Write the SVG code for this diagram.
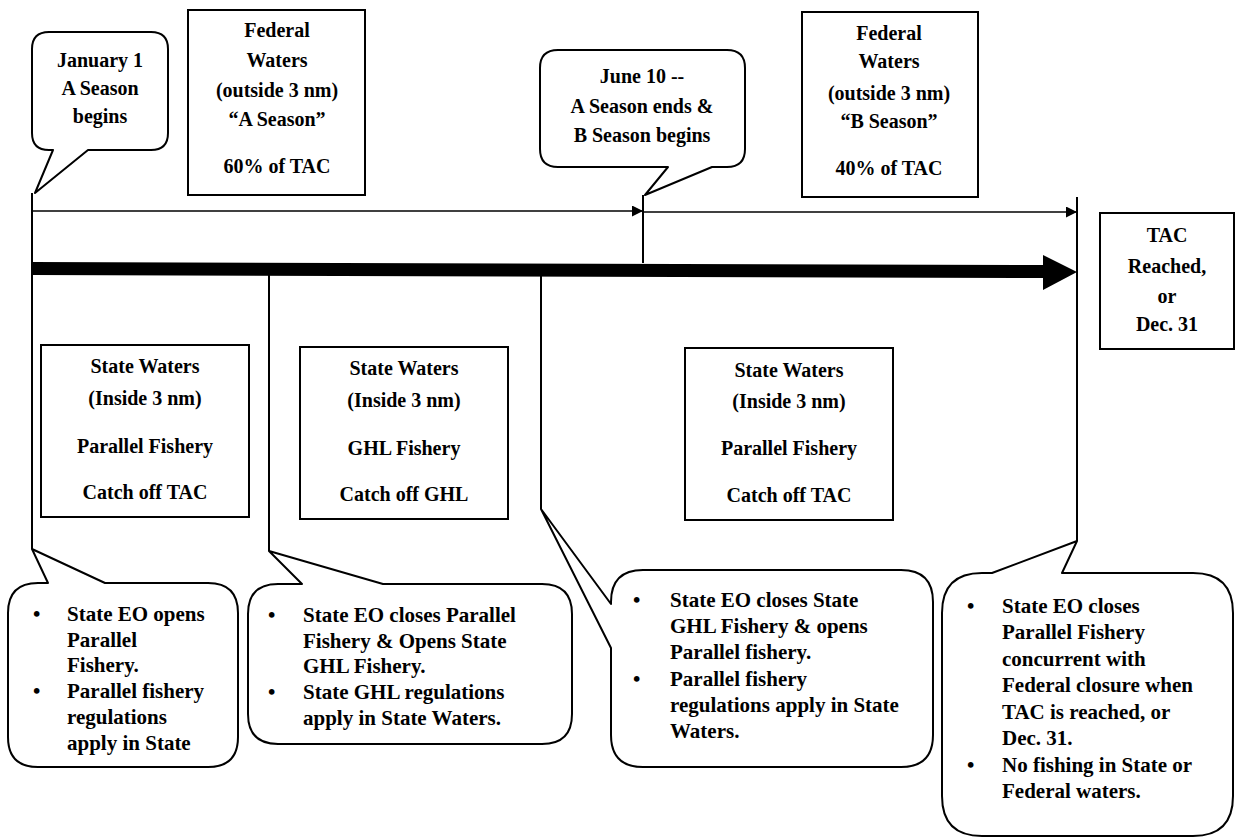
<svg xmlns="http://www.w3.org/2000/svg" width="1236" height="839" viewBox="0 0 1236 839">
<defs>
<style>
.t{font-family:'Liberation Serif','DejaVu Serif','Noto Serif',serif;font-weight:700;font-size:20px;fill:#000;text-anchor:middle}
.b{font-family:'Liberation Serif','DejaVu Serif','Noto Serif',serif;font-weight:700;font-size:21px;fill:#000}
.box{fill:#fff;stroke:#000;stroke-width:2}
.call{fill:#fff;stroke:#000;stroke-width:2;stroke-linejoin:round}
.ln{stroke:#000;stroke-width:2;fill:none}
.thin{stroke:#000;stroke-width:1.5;fill:none}
</style>
<marker id="ah" viewBox="0 0 11 11" refX="11" refY="5.5" markerWidth="11" markerHeight="11" markerUnits="userSpaceOnUse" orient="auto">
<path d="M0,0 L11,5.5 L0,11 Z" fill="#000"/>
</marker>
</defs>
<rect width="1236" height="839" fill="#fff"/>

<g id="connectors">
<line class="thin" x1="32" y1="211" x2="643" y2="211" marker-end="url(#ah)"/>
<line class="thin" x1="643" y1="212" x2="1077" y2="212" marker-end="url(#ah)"/>
<polygon points="32,262 1043,265 1043,255 1077,272 1043,290 1043,278 32,275" fill="#000"/>
<line class="ln" x1="32" y1="193" x2="32" y2="549"/>
<line class="ln" x1="269" y1="275" x2="269" y2="551"/>
<line class="ln" x1="541" y1="276" x2="541" y2="509"/>
<line class="ln" x1="643" y1="195" x2="643" y2="263"/>
<line class="ln" x1="1077" y1="197" x2="1077" y2="541"/>
</g>

<g id="jan1" font-family="Liberation Serif">
<path class="call" d="M49,32 H151 Q168,32 168,49 V133 Q168,150 151,150 H88 L35,193 L53,150 H49 Q32,150 32,133 V49 Q32,32 49,32 Z"/>
<text class="t" x="100" y="67">January 1</text>
<text class="t" x="100" y="95">A Season</text>
<text class="t" x="100" y="123">begins</text>
</g>

<g id="fedA" font-family="Liberation Serif">
<rect class="box" x="188" y="10" width="177" height="185"/>
<text class="t" x="277" y="37">Federal</text>
<text class="t" x="277" y="67">Waters</text>
<text class="t" x="277" y="97">(outside 3 nm)</text>
<text class="t" x="277" y="126">“A Season”</text>
<text class="t" x="277" y="173">60% of TAC</text>
</g>

<g id="june10" font-family="Liberation Serif">
<path class="call" d="M558,50 H727 Q745,50 745,68 V149 Q745,167 727,167 H712 L645,195 L668,167 H558 Q540,167 540,149 V68 Q540,50 558,50 Z"/>
<text class="t" x="642" y="83">June 10 --</text>
<text class="t" x="642" y="113">A Season ends &amp;</text>
<text class="t" x="642" y="142">B Season begins</text>
</g>

<g id="fedB" font-family="Liberation Serif">
<rect class="box" x="802" y="12" width="176" height="185"/>
<text class="t" x="889" y="40">Federal</text>
<text class="t" x="889" y="68">Waters</text>
<text class="t" x="889" y="100">(outside 3 nm)</text>
<text class="t" x="889" y="128">“B Season”</text>
<text class="t" x="889" y="175">40% of TAC</text>
</g>

<g id="tac" font-family="Liberation Serif">
<rect class="box" x="1100" y="213" width="134" height="136"/>
<text class="t" x="1167" y="242">TAC</text>
<text class="t" x="1167" y="273">Reached,</text>
<text class="t" x="1167" y="303">or</text>
<text class="t" x="1167" y="331">Dec. 31</text>
</g>

<g id="state1" font-family="Liberation Serif">
<rect class="box" x="41" y="345" width="208" height="172"/>
<text class="t" x="145" y="373">State Waters</text>
<text class="t" x="145" y="405">(Inside 3 nm)</text>
<text class="t" x="145" y="453">Parallel Fishery</text>
<text class="t" x="145" y="499">Catch off TAC</text>
</g>

<g id="state2" font-family="Liberation Serif">
<rect class="box" x="300" y="347" width="208" height="172"/>
<text class="t" x="404" y="375">State Waters</text>
<text class="t" x="404" y="407">(Inside 3 nm)</text>
<text class="t" x="404" y="455">GHL Fishery</text>
<text class="t" x="404" y="501">Catch off GHL</text>
</g>

<g id="state3" font-family="Liberation Serif">
<rect class="box" x="685" y="348" width="208" height="172"/>
<text class="t" x="789" y="377">State Waters</text>
<text class="t" x="789" y="408">(Inside 3 nm)</text>
<text class="t" x="789" y="455">Parallel Fishery</text>
<text class="t" x="789" y="502">Catch off TAC</text>
</g>

<g id="note1" font-family="Liberation Serif">
<path class="call" d="M38,583 H48 L32,549 L105,583 H208 Q238,583 238,613 V737 Q238,767 208,767 H38 Q8,767 8,737 V613 Q8,583 38,583 Z"/>
<text class="b" x="33" y="621">•</text>
<text class="b" x="67" y="621">State EO opens</text>
<text class="b" x="67" y="647">Parallel</text>
<text class="b" x="67" y="672">Fishery.</text>
<text class="b" x="33" y="698">•</text>
<text class="b" x="67" y="698">Parallel fishery</text>
<text class="b" x="67" y="724">regulations</text>
<text class="b" x="67" y="750">apply in State</text>
</g>

<g id="note2" font-family="Liberation Serif">
<path class="call" d="M278,584 H302 L269,551 L383,584 H542 Q572,584 572,614 V714 Q572,744 542,744 H278 Q248,744 248,714 V614 Q248,584 278,584 Z"/>
<text class="b" x="268" y="622">•</text>
<text class="b" x="303" y="622">State EO closes Parallel</text>
<text class="b" x="303" y="648">Fishery &amp; Opens State</text>
<text class="b" x="303" y="673">GHL Fishery.</text>
<text class="b" x="268" y="699">•</text>
<text class="b" x="303" y="699">State GHL regulations</text>
<text class="b" x="303" y="725">apply in State Waters.</text>
</g>

<g id="note3" font-family="Liberation Serif">
<path class="call" d="M643,570 H901 Q933,570 933,602 V735 Q933,767 901,767 H643 Q611,767 611,735 V648 L541,509 L611,604 V602 Q611,570 643,570 Z"/>
<text class="b" x="633" y="607">•</text>
<text class="b" x="670" y="607">State EO closes State</text>
<text class="b" x="670" y="633">GHL Fishery &amp; opens</text>
<text class="b" x="670" y="659">Parallel fishery.</text>
<text class="b" x="633" y="686">•</text>
<text class="b" x="670" y="686">Parallel fishery</text>
<text class="b" x="670" y="712">regulations apply in State</text>
<text class="b" x="670" y="738">Waters.</text>
</g>

<g id="note4" font-family="Liberation Serif">
<path class="call" d="M982,573 H992 L1077,541 L1062,573 H1193 Q1233,573 1233,613 V796 Q1233,836 1193,836 H982 Q942,836 942,796 V613 Q942,573 982,573 Z"/>
<text class="b" x="967" y="613">•</text>
<text class="b" x="1002" y="613">State EO closes</text>
<text class="b" x="1002" y="639">Parallel Fishery</text>
<text class="b" x="1002" y="666">concurrent with</text>
<text class="b" x="1002" y="692">Federal closure when</text>
<text class="b" x="1002" y="719">TAC is reached, or</text>
<text class="b" x="1002" y="745">Dec. 31.</text>
<text class="b" x="967" y="772">•</text>
<text class="b" x="1002" y="772">No fishing in State or</text>
<text class="b" x="1002" y="798">Federal waters.</text>
</g>
</svg>
